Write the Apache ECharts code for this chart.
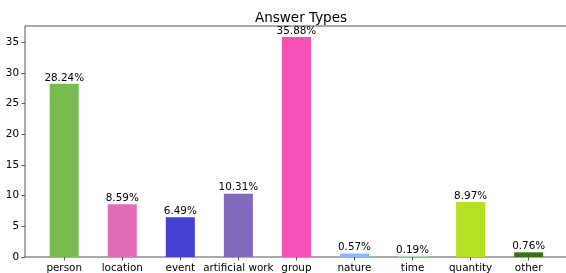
<!DOCTYPE html>
<html>
<head>
<meta charset="utf-8">
<script src="https://cdn.jsdelivr.net/npm/echarts@6/dist/echarts.min.js"></script>
<style>
  html, body { margin: 0; padding: 0; background: #fff; }
  #main { width: 566px; height: 273px; }
</style>
</head>
<body>
<div id="main"></div>
<script>
// data
var categories = ['person', 'location', 'event', 'artificial work', 'group', 'nature', 'time', 'quantity', 'other'];
var percents = [28.24, 8.59, 6.49, 10.31, 35.88, 0.57, 0.19, 8.97, 0.76];
var barColors = ['#78ba4e', '#e06bb8', '#4440d2', '#8169bb', '#f550b6', '#8bbaf5', '#a9dfb5', '#b6e023', '#3b6e1b'];

var font = 'DejaVu Sans';
var chart = echarts.init(document.getElementById('main'));

// matplotlib puts 0.675 of a band before the first bar; a category axis puts 0.5,
// so the category grid is inset and a second grid draws the full frame
var band = 58.06;
var frameLeft = 25, frameWidth = 543;
var inset = 0.175 * band;

chart.setOption({
    animation: false,
    textStyle: { fontFamily: font },
    title: {
        text: 'Answer Types',
        left: 296,
        textAlign: 'center',
        top: 6,
        textStyle: { fontFamily: font, fontSize: 13.5, fontWeight: 'normal', color: '#000' }
    },
    grid: [{
        left: frameLeft + inset, top: 26, width: band * categories.length, height: 231,
        outerBoundsMode: 'none'
    }, {
        left: frameLeft, top: 26, width: frameWidth, height: 231,
        show: true, borderColor: '#555', borderWidth: 1,
        outerBoundsMode: 'none'
    }],
    xAxis: [{
        type: 'category',
        data: categories,
        gridIndex: 0,
        axisLine: { show: false },
        axisTick: { show: true, length: 3.5, alignWithLabel: true, lineStyle: { color: '#555' } },
        axisLabel: { margin: 6, fontSize: 10.4, color: '#000', interval: 0 }
    }, {
        type: 'value', gridIndex: 1, show: false
    }],
    yAxis: [{
        type: 'value',
        gridIndex: 0,
        min: 0,
        max: 37.67,
        interval: 5,
        offset: inset,
        splitLine: { show: false },
        axisLine: { show: false },
        axisTick: { show: true, length: 3.5, lineStyle: { color: '#555' } },
        axisLabel: { margin: 6, fontSize: 10.4, color: '#000', showMaxLabel: false }
    }, {
        type: 'value', gridIndex: 1, show: false
    }],
    series: [{
        type: 'bar',
        barWidth: '50%',
        data: percents.map(function (v, i) {
            return { value: v, itemStyle: { color: barColors[i] } };
        }),
        label: {
            show: true,
            position: 'top',
            distance: 1,
            fontSize: 10.4,
            color: '#000',
            formatter: function (p) { return p.value.toFixed(2) + '%'; }
        }
    }]
});
</script>
</body>
</html>
